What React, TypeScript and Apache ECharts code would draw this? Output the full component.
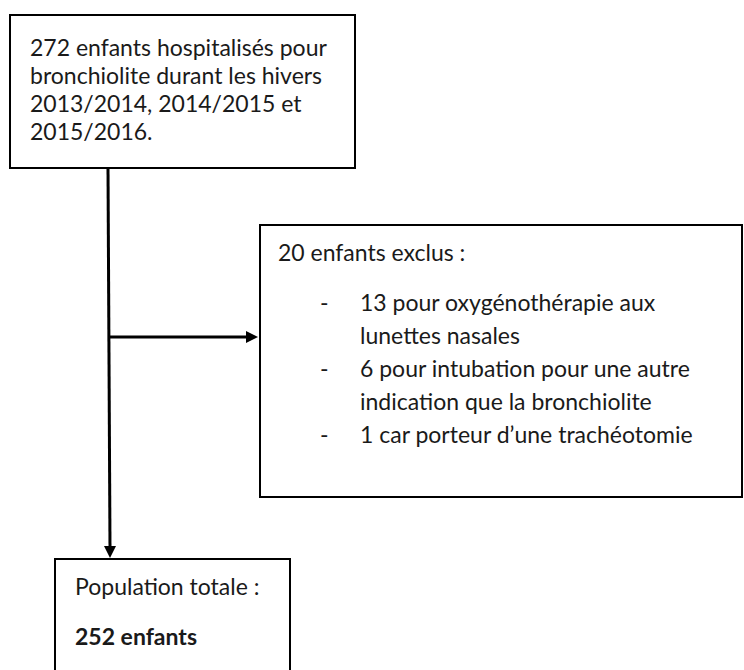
import React, { useEffect, useRef } from "react";
import * as echarts from "echarts";

const topBoxLines = [
  "272 enfants hospitalisés pour",
  "bronchiolite durant les hivers",
  "2013/2014, 2014/2015 et",
  "2015/2016.",
];
const excludedTitle = "20 enfants exclus :";
const excludedItems = [
  ["13 pour oxygénothérapie aux", "lunettes nasales"],
  ["6 pour intubation pour une autre", "indication que la bronchiolite"],
  ["1 car porteur d’une trachéotomie"],
];
const totalTitle = "Population totale :";
const totalValue = "252 enfants";

export default function App() {
  const ref = useRef<HTMLDivElement>(null);
  useEffect(() => {
    document.body.style.margin = "0";
    const chart = echarts.init(ref.current!, null, { renderer: "svg" });
    const font = "Lato, 'Open Sans', sans-serif";
    const textColor = "#1a1a1a";
    const fs = 23;
    const els: any[] = [];
    const box = (x: number, y: number, w: number, h: number) => ({
      type: "rect",
      shape: { x, y, width: w, height: h },
      style: { fill: "#fff", stroke: "#000", lineWidth: 2 },
    });
    const txt = (x: number, y: number, t: string, bold = false) => ({
      type: "text",
      x,
      y,
      style: {
        text: t,
        fill: textColor,
        font: `${bold ? "bold " : ""}${fs}px ${font}`,
        textVerticalAlign: "middle",
        verticalAlign: "middle",
      },
    });
    // connectors
    els.push({ type: "line", shape: { x1: 108, y1: 168, x2: 110, y2: 548 }, style: { stroke: "#000", lineWidth: 3 } });
    els.push({ type: "polygon", shape: { points: [[104, 546], [116, 546], [110, 558]] }, style: { fill: "#000" } });
    els.push({ type: "line", shape: { x1: 108, y1: 337, x2: 248, y2: 337 }, style: { stroke: "#000", lineWidth: 3 } });
    els.push({ type: "polygon", shape: { points: [[246, 331], [246, 343], [258, 337]] }, style: { fill: "#000" } });
    // boxes
    els.push(box(10, 15, 345, 153));
    topBoxLines.forEach((l, i) => els.push(txt(30, 47 + i * 28, l)));
    els.push(box(260, 225, 482, 272));
    els.push(txt(278, 252, excludedTitle));
    let y = 302;
    excludedItems.forEach((item) => {
      els.push(txt(320, y, "-"));
      item.forEach((l) => {
        els.push(txt(360, y, l));
        y += 33;
      });
    });
    els.push(box(55, 559, 235, 140));
    els.push(txt(75, 586, totalTitle));
    els.push(txt(75, 636, totalValue, true));
    chart.setOption({ animation: false, graphic: { elements: els } });
    return () => chart.dispose();
  }, []);
  return <div ref={ref} style={{ width: 744, height: 670, background: "#fff" }} />;
}
